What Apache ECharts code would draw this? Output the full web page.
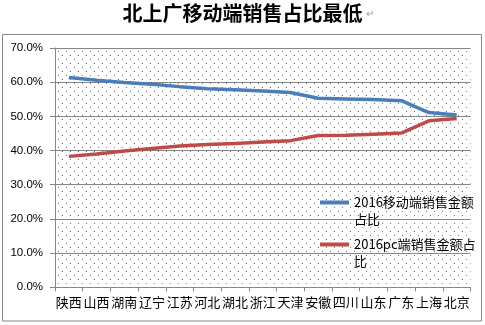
<!DOCTYPE html>
<html>
<head>
<meta charset="utf-8">
<script src="https://cdn.jsdelivr.net/npm/echarts@6/dist/echarts.min.js"></script>
<style>
html,body{margin:0;padding:0;background:#fff;}
#c{width:485px;height:325px;}
</style>
</head>
<body>
<div id="c"></div>
<script>
var titleText = '北上广移动端销售占比最低';
var categories = ['陕西','山西','湖南','辽宁','江苏','河北','湖北','浙江','天津','安徽','四川','山东','广东','上海','北京'];
var mobileName = '2016移动端销售金额占比';
var pcName = '2016pc端销售金额占比';
var mobileValues = [61.4, 60.6, 59.9, 59.4, 58.7, 58.1, 57.8, 57.4, 57.0, 55.3, 55.1, 54.9, 54.6, 51.1, 50.4];
var pcValues = [38.3, 39.0, 39.9, 40.6, 41.3, 41.8, 42.1, 42.5, 42.9, 44.4, 44.5, 44.8, 45.1, 48.7, 49.4];
var yTicks = [0, 10, 20, 30, 40, 50, 60, 70];

var pat = document.createElement('canvas');
pat.width = 8; pat.height = 8;
var pc = pat.getContext('2d');
pc.fillStyle = '#4a7ebb';
pc.fillRect(2, 3, 1, 1);
pc.fillRect(6, 7, 1, 1);

var legendBreaks = {};
legendBreaks[mobileName] = ' \n2016移动端销售金额\n占比';
legendBreaks[pcName] = ' \n2016pc端销售金额占\n比';

var chart = echarts.init(document.getElementById('c'), null, {renderer: 'canvas'});
var legendText = {
  fontSize: 13,
  color: '#000',
  fontFamily: 'Noto Sans CJK SC',
  lineHeight: 17
};
chart.setOption({
  animation: false,
  title: {
    text: titleText,
    left: 'center',
    top: 0,
    padding: [3, 5, 5, 5],
    textStyle: {fontSize: 20, fontWeight: 'bold', color: '#000', fontFamily: 'Noto Sans CJK SC'}
  },
  graphic: [
    {type: 'rect', shape: {x: 2.5, y: 34.5, width: 479, height: 286.5}, style: {fill: 'none', stroke: '#868686', lineWidth: 1}, silent: true, z: -1},
    {type: 'text', left: 366, top: 9, style: {text: '↵', fontSize: 10, fill: '#999'}}
  ],
  legend: [
    {data: [mobileName], orient: 'vertical', left: 320, top: 177, padding: 0, itemWidth: 29, itemHeight: 4, itemGap: 0,
     icon: 'rect', formatter: function (n) { return legendBreaks[n]; }, textStyle: legendText},
    {data: [pcName], orient: 'vertical', left: 320, top: 219, padding: 0, itemWidth: 29, itemHeight: 4, itemGap: 0,
     icon: 'rect', formatter: function (n) { return legendBreaks[n]; }, textStyle: legendText}
  ],
  grid: {
    left: 55, right: 14.5, top: 48, bottom: 37.7,
    show: true, borderWidth: 0,
    backgroundColor: {image: pat, repeat: 'repeat'}
  },
  xAxis: {
    type: 'category',
    data: categories,
    boundaryGap: true,
    axisLine: {lineStyle: {color: '#868686', width: 1}},
    axisTick: {show: true, length: 4, alignWithLabel: false, interval: 0, lineStyle: {color: '#868686'}},
    axisLabel: {interval: 0, color: '#000', fontSize: 13, margin: 8, fontFamily: 'Noto Sans CJK SC'},
    splitLine: {show: false}
  },
  yAxis: {
    type: 'value',
    min: yTicks[0], max: yTicks[yTicks.length - 1], interval: 10,
    axisLine: {show: true, lineStyle: {color: '#868686', width: 1}},
    axisTick: {show: true, length: 5, lineStyle: {color: '#868686'}},
    axisLabel: {color: '#000', fontSize: 11.5, margin: 12, fontFamily: 'Liberation Sans',
      formatter: function (v) { return v.toFixed(1) + '%'; }},
    splitLine: {show: true, lineStyle: {color: '#868686', width: 1}}
  },
  series: [
    {name: mobileName, type: 'line', data: mobileValues, showSymbol: false, symbol: 'none',
     lineStyle: {color: '#4a7ebb', width: 3.5}, itemStyle: {color: '#4a7ebb'}},
    {name: pcName, type: 'line', data: pcValues, showSymbol: false, symbol: 'none',
     lineStyle: {color: '#be4b48', width: 3.5}, itemStyle: {color: '#be4b48'}}
  ]
});
</script>
</body>
</html>
